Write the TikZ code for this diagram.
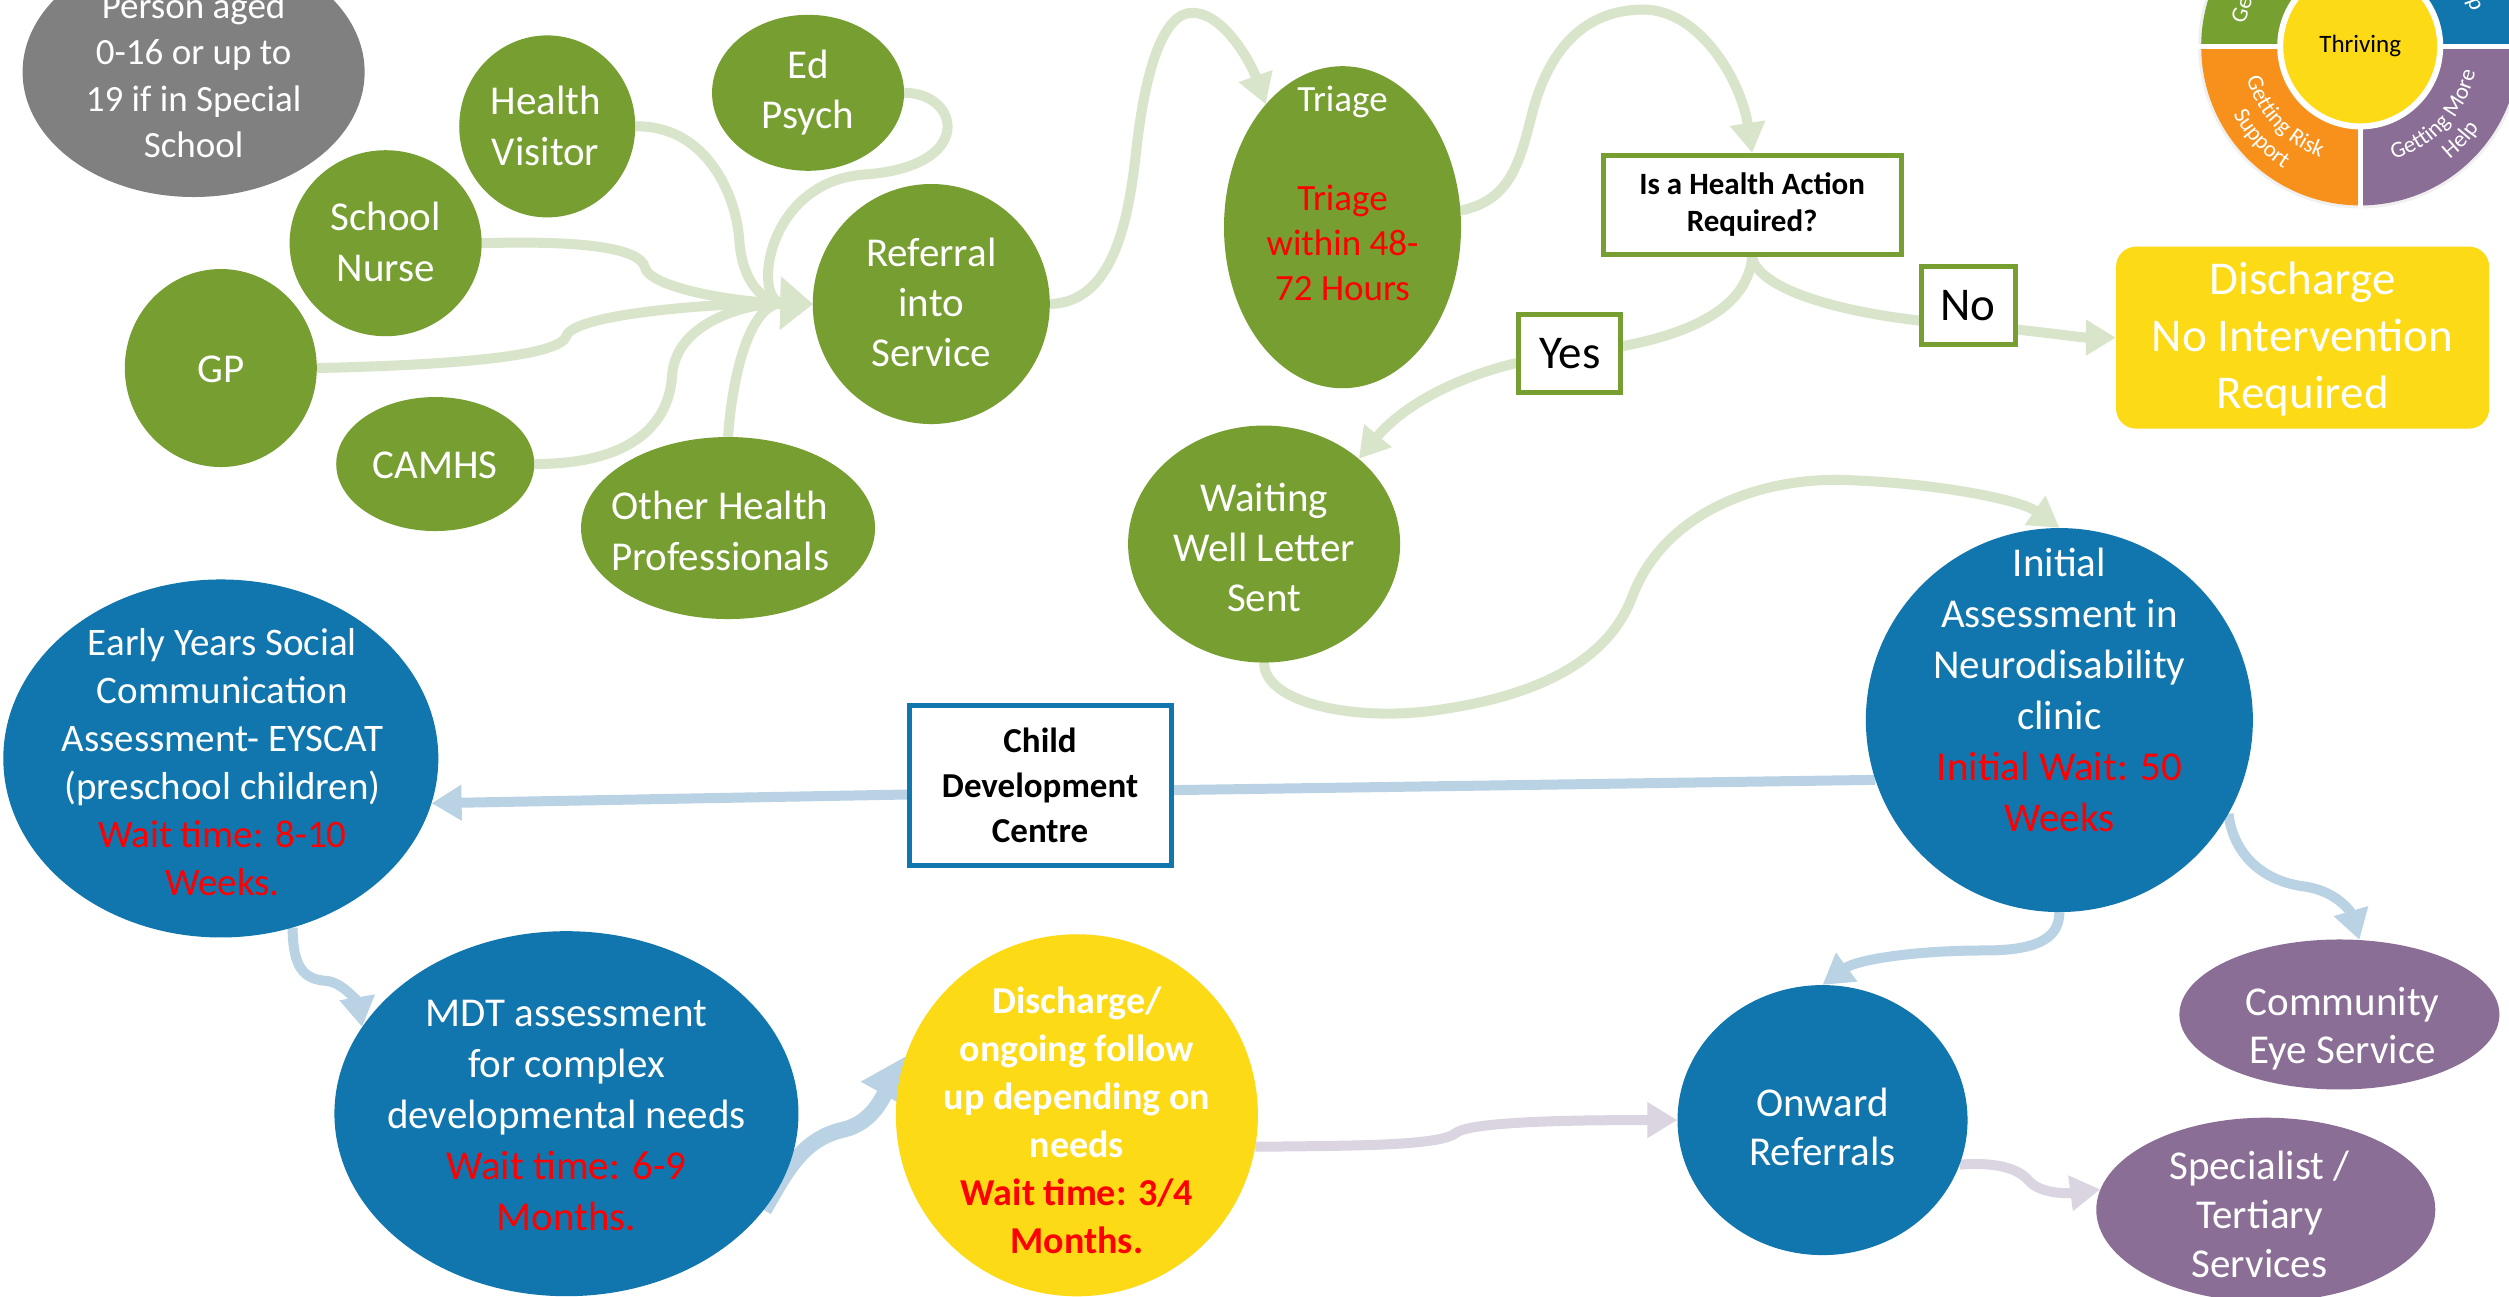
\documentclass[tikz,border=0pt]{standalone}
\usepackage{fontspec}
\setmainfont{Carlito}
\usetikzlibrary{arrows.meta,shapes.geometric,decorations.text}
\definecolor{cgreen}{RGB}{118,158,48}
\definecolor{cblue}{RGB}{16,118,173}
\definecolor{cyellow}{RGB}{252,218,22}
\definecolor{cpurple}{RGB}{138,110,150}
\definecolor{cgrey}{RGB}{128,128,128}
\definecolor{cred}{RGB}{255,0,0}
\definecolor{lgreen}{RGB}{216,229,202}
\definecolor{lblue}{RGB}{185,211,229}
\definecolor{lpurple}{RGB}{219,213,226}
\definecolor{corange}{RGB}{248,145,28}
\definecolor{wgreen}{RGB}{118,160,48}
\pgfdeclarelayer{bg}
\pgfsetlayers{bg,main}
\newcommand\fsz[2]{\fontsize{#1}{#2}\selectfont}
\newcommand\wfont{\color{white}\fontsize{23}{27}\selectfont}
\begin{document}
\begin{tikzpicture}[x=1.6pt,y=-1.6pt,
  shp/.style={ellipse, inner sep=0pt, draw=none},
  gn/.style={shp, fill=cgreen},
  bn/.style={shp, fill=cblue},
  pn/.style={shp, fill=cpurple},
  yn/.style={shp, fill=cyellow},
  wt/.style={text=white, align=center, inner sep=0pt, font=\fsz{41}{51}},
  gbox/.style={rectangle, draw=cgreen, line width=5pt, fill=white, inner sep=0pt, align=center},
  con/.style={line width=10pt},
  gc/.style={con, draw=lgreen, -{Triangle[width=34pt,length=30pt]}},
  gca/.style={con, draw=lgreen, -{Triangle[width=50pt,length=32pt]}},
  bc/.style={con, draw=lblue, -{Triangle[width=34pt,length=30pt]}},
  bct/.style={line width=16pt, draw=lblue, -{Triangle[width=50pt,length=44pt]}},
  pc/.style={con, draw=lpurple, -{Triangle[width=34pt,length=30pt]}}
]
\useasboundingbox (0,0) rectangle (1568,810);
\begin{pgfonlayer}{bg}
\fill[white] (0,0) rectangle (1568,810);
\end{pgfonlayer}

% ---------- nodes ----------
\node[shp, fill=cgrey, minimum width=342pt, minimum height=250pt] (person) at (121,45) {};
\node[wt, font=\fsz{37}{46.5}] (persont) at (121,47) {Person aged\\0-16 or up to\\19 if in Special\\School};

\node[gn, minimum width=176pt, minimum height=182pt] (hv) at (342,79) {};
\node[wt] (hvt) at (341,79) {Health\\Visitor};
\node[gn, minimum width=192pt, minimum height=156pt] (ed) at (505,58) {};
\node[wt, font=\fsz{41}{50}] (edt) at (505,58) {Ed\\Psych};
\node[gn, minimum width=192pt, minimum height=186pt] (sn) at (241,152) {};
\node[wt] (snt) at (241,151) {School\\Nurse};
\node[gn, minimum width=192pt, minimum height=198pt] (gp) at (138,230) {};
\node[wt] (gpt) at (138,231) {GP};
\node[gn, minimum width=198pt, minimum height=134pt] (camhs) at (272,290) {};
\node[wt] (camhst) at (272,291) {CAMHS};
\node[gn, minimum width=294pt, minimum height=182pt] (other) at (455,330) {};
\node[wt] (othert) at (450,332) {Other Health\\Professionals};
\node[gn, minimum width=237pt, minimum height=240pt] (referral) at (582,190) {};
\node[wt, font=\fsz{41}{50}] (referralt) at (582,189) {Referral\\into\\Service};
\node[gn, minimum width=237pt, minimum height=322pt] (triage) at (839,142) {};
\node[wt, font=\fsz{37}{45}] (triaget) at (839,121) {Triage\\[54pt]\textcolor{cred}{Triage}\\\textcolor{cred}{within 48-}\\\textcolor{cred}{72 Hours}};

\node[gbox, minimum width=298pt, minimum height=99pt, font=\fsz{31}{37}\bfseries] (q) at (1095,128) {Is a Health Action\\Required?};
\node[gbox, minimum width=94pt, minimum height=78pt, font=\fsz{47}{56}] (no) at (1230,191) {No};
\node[gbox, minimum width=102pt, minimum height=78pt, font=\fsz{47}{56}] (yes) at (981,221) {Yes};
\node[rectangle, rounded corners=20pt, fill=cyellow, minimum width=373pt, minimum height=182pt, inner sep=0pt] (discharge) at (1439,211) {};
\node[wt, font=\fsz{47}{57}] (discharget) at (1439,212) {Discharge\\No Intervention\\Required};

\node[gn, minimum width=272pt, minimum height=237pt] (waiting) at (790,340) {};
\node[wt, font=\fsz{41}{50}] (waitingt) at (790,342) {Waiting\\Well Letter\\Sent};

\node[bn, minimum width=387pt, minimum height=384pt] (initial) at (1287,450) {};
\node[wt, font=\fsz{41}{51}] (initialt) at (1287,431) {Initial\\Assessment in\\Neurodisability\\clinic\\\textcolor{cred}{Initial Wait: 50}\\\textcolor{cred}{Weeks}};

\node[rectangle, draw=cblue, line width=5pt, fill=white, minimum width=262pt, minimum height=160pt, inner sep=0pt, font=\fsz{35}{45}\bfseries, align=center] (cdc) at (650,491) {Child\\Development\\Centre};

\node[bn, minimum width=435pt, minimum height=358pt] (eyscat) at (138,474) {};
\node[wt, font=\fsz{39}{48}] (eyscatt) at (139,476) {Early Years Social\\Communication\\Assessment- EYSCAT\\(preschool children)\\\textcolor{cred}{Wait time: 8-10}\\\textcolor{cred}{Weeks.}};

\node[bn, minimum width=464pt, minimum height=365pt] (mdt) at (354,696) {};
\node[wt, font=\fsz{41}{51}] (mdtt) at (354,697) {MDT assessment\\for complex\\developmental needs\\\textcolor{cred}{Wait time: 6-9}\\\textcolor{cred}{Months.}};

\node[yn, minimum width=362pt, minimum height=362pt] (dfu) at (673,697) {};
\node[wt, font=\fsz{38}{48}\bfseries] (dfut) at (673,700) {Discharge/\\ongoing follow\\up depending on\\needs\\\textcolor{cred}{Wait time: 3/4}\\\textcolor{cred}{Months.}};

\node[bn, minimum width=290pt, minimum height=270pt] (onward) at (1139,700) {};
\node[wt, font=\fsz{41}{49}] (onwardt) at (1139,704) {Onward\\Referrals};
\node[pn, minimum width=320pt, minimum height=150pt] (ces) at (1462,634) {};
\node[wt, font=\fsz{41}{48}] (cest) at (1464,643) {Community\\Eye Service};
\node[pn, minimum width=339pt, minimum height=184pt] (spec) at (1416,756) {};
\node[wt, font=\fsz{41}{49}] (spect) at (1412,759) {Specialist /\\Tertiary\\Services};

% ---------- connectors ----------
\coordinate (nopass) at (1230,203);
\coordinate (cdcpass) at (650,495);
\begin{pgfonlayer}{bg}
\draw[gca] (ed.east) .. controls (600,58) and (610,104) .. (541,109) .. controls (478,113) and (470,189) .. (referral.west);
\draw[gca] (hv.east) .. controls (440,78) and (460,120) .. (462,150) .. controls (464,178) and (478,189) .. (referral.west);
\draw[gca] (sn.east) .. controls (370,150) and (400,156) .. (403,167) .. controls (406,180) and (460,189) .. (referral.west);
\draw[gca] (gp.east) .. controls (290,228) and (350,222) .. (354,210) .. controls (358,196) and (450,189) .. (referral.west);
\draw[gca] (camhs.east) .. controls (395,290) and (418,265) .. (420,235) .. controls (422,200) and (470,189) .. (referral.west);
\draw[gca] (other.north) .. controls (458,230) and (470,189) .. (referral.west);

\draw[gc] (referral.east) .. controls (695,189) and (705,140) .. (710,95) .. controls (716,40) and (728,8) .. (745,8) .. controls (765,8) and (782,40) .. (triage.122);
\draw[gc] (triage.8) .. controls (945,125) and (950,100) .. (958,69) .. controls (970,25) and (995,6) .. (1027,6) .. controls (1062,6) and (1088,50) .. (q.north);
\draw[gc] (q.south) .. controls (1098,180) and (1150,198) .. (nopass) .. controls (1275,207) and (1300,211) .. (discharge.west);
\draw[gc] (q.south) .. controls (1092,195) and (1050,214) .. (yes.center) .. controls (920,228) and (878,252) .. (waiting.42);
\draw[gc] (waiting.south) .. controls (790,440) and (850,452) .. (903,443) .. controls (975,432) and (1008,405) .. (1020,373) .. controls (1040,320) and (1100,298) .. (1154,300) .. controls (1210,302) and (1262,312) .. (initial.north);

\draw[bc] (initial.198) -- (cdcpass) -- (eyscat.-12);
\draw[bc] (eyscat.-67) .. controls (183,605) and (190,612) .. (204,613) .. controls (215,614) and (224,628) .. (mdt.157);
\draw[bct] (mdt.-26) .. controls (490,735) and (500,712) .. (527,706) .. controls (545,702) and (552,685) .. (dfu.161);
\draw[pc] (dfu.-10) .. controls (850,716) and (900,716) .. (910,708) .. controls (920,700) and (1000,700) .. (onward.west);
\draw[bc] (initial.south) .. controls (1287,588) and (1270,594) .. (1240,594) .. controls (1195,594) and (1160,600) .. (onward.north);
\draw[bc] (initial.-29) .. controls (1395,530) and (1410,550) .. (1440,554) .. controls (1462,557) and (1470,572) .. (ces.75);
\draw[pc] (onward.-18) .. controls (1250,726) and (1262,731) .. (1268,738) .. controls (1275,746) and (1292,746) .. (spec.173);
\end{pgfonlayer}

% ---------- wheel ----------
\begin{scope}[shift={(1475,29)}]
\fill[gray!12] (0,0) circle[radius=162pt];
\fill[wgreen] (0,0) -- (90:159pt) arc[start angle=90,end angle=180,radius=159pt] -- cycle;
\fill[cblue] (0,0) -- (0:159pt) arc[start angle=0,end angle=90,radius=159pt] -- cycle;
\fill[corange] (0,0) -- (180:159pt) arc[start angle=180,end angle=270,radius=159pt] -- cycle;
\fill[cpurple] (0,0) -- (270:159pt) arc[start angle=270,end angle=360,radius=159pt] -- cycle;
\draw[white, line width=5pt] (180:163pt) -- (0:163pt) (90:163pt) -- (270:163pt);
\fill[cyellow, draw=white, line width=6pt] (0,0) circle[radius=80pt];
\node[font=\fsz{25}{29}, inner sep=0pt] (thriving) at (0,0) {Thriving};
\path[decorate, decoration={text along path, text={|\wfont|Getting Risk}, text align=center}] (178:118pt) arc[start angle=178, end angle=268, radius=118pt];
\path[decorate, decoration={text along path, text={|\wfont|Support}, text align=center}] (178:144pt) arc[start angle=178, end angle=268, radius=144pt];
\path[decorate, decoration={text along path, text={|\wfont|Getting More}, text align=center}] (272:118pt) arc[start angle=272, end angle=362, radius=118pt];
\path[decorate, decoration={text along path, text={|\wfont|Help}, text align=center}] (272:144pt) arc[start angle=272, end angle=362, radius=144pt];
\node[text=white, font=\fsz{23}{27}, rotate=72, inner sep=0pt] (ge) at (163:124pt) {Ge};
\node[text=white, font=\fsz{23}{27}, rotate=-70, inner sep=0pt] (hp) at (20:120pt) {p};
\end{scope}
\end{tikzpicture}
\end{document}
